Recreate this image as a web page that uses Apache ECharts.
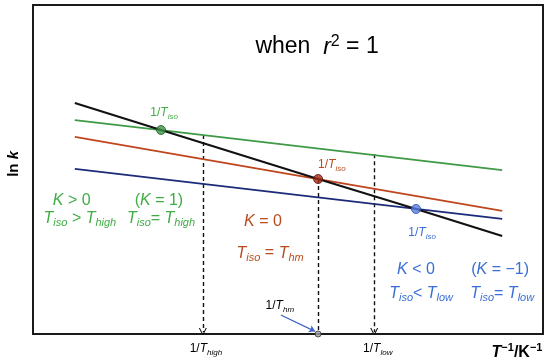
<!DOCTYPE html>
<html>
<head>
<meta charset="utf-8">
<script src="https://cdn.jsdelivr.net/npm/echarts@6/dist/echarts.min.js"></script>
<style>
html, body { margin: 0; padding: 0; background: #fff; }
#chart { width: 550px; height: 364px; }
</style>
</head>
<body>
<div id="chart"></div>
<script>
var FONT = '"Liberation Sans", Arial, sans-serif';

// schematic ln k vs 1/T, both axes in arbitrary units 0..100
var blackLine = [[8.2, 70.2], [25.1, 62.0], [55.9, 47.1], [75.1, 38.0], [92.0, 29.8]];
var greenLine = [[8.2, 65.0], [25.1, 62.0], [92.0, 49.8]];
var redLine = [[8.2, 59.9], [55.9, 47.1], [92.0, 37.4]];
var blueLine = [[8.2, 50.2], [75.1, 38.0], [92.0, 35.0]];
var isoPoints = [[25.1, 62.0], [55.9, 47.1], [75.1, 38.0]];
var highDrop = [[33.3, 60.5], [33.3, 0.6]];
var hmDrop = [[55.9, 47.1], [55.9, 0]];
var lowDrop = [[66.9, 54.6], [66.9, 0.6]];
var hmPoint = [55.9, 0];
var hmArrow = [[48.6, 5.8], [55.3, 0.8]];

// annotations: anchor (data units), rich text, colour key, style key
var notes = [
  [55.7, 87.2, '{n|when  }{i|r}{u|2}{n| = 1}', 'k', 'title'],
  [-3.7, 51.7, '{n|ln }{i|k}', 'k', 'ylab'],
  [94.9, -5.6, '{i|T}{u|\u22121}{n|/K}{u|\u22121}', 'k', 'xlab'],
  [25.7, 67.2, '{n|1/}{i|T}{s|iso}', 'g', 'small'],
  [58.6, 51.4, '{n|1/}{i|T}{s|iso}', 'r', 'small'],
  [76.3, 30.7, '{n|1/}{i|T}{s|iso}', 'b', 'small'],
  [7.6, 40.5, '{i|K}{n| > 0}', 'g', 'big'],
  [9.2, 35.0, '{i|T}{s|iso}{n| > }{i|T}{s|high}', 'g', 'big'],
  [24.7, 40.5, '{n|(}{i|K}{n| = 1)}', 'g', 'big'],
  [25.1, 35.0, '{i|T}{s|iso}{n|= }{i|T}{s|high}', 'g', 'big'],
  [45.1, 34.3, '{i|K}{n| = 0}', 'r', 'big'],
  [46.5, 24.6, '{i|T}{s|iso}{n| = }{i|T}{s|hm}', 'r', 'big'],
  [75.1, 19.5, '{i|K}{n| < 0}', 'b', 'big'],
  [76.1, 12.2, '{i|T}{s|iso}{n|< }{i|T}{s|low}', 'b', 'big'],
  [91.6, 19.5, '{n|(}{i|K}{n| = \u22121)}', 'b', 'big'],
  [92.0, 12.2, '{i|T}{s|iso}{n|= }{i|T}{s|low}', 'b', 'big'],
  [48.4, 8.5, '{n|1/}{i|T}{s|hm}', 'k', 'small'],
  [33.9, -4.6, '{n|1/}{i|T}{s|high}', 'k', 'small'],
  [67.6, -4.6, '{n|1/}{i|T}{s|low}', 'k', 'small']
];

var textColors = { k: '#000', g: '#3fac46', r: '#b84c1c', b: '#3a6ed6' };
var textSizes = { title: 23, big: 16, small: 12, ylab: 15, xlab: 16 };

function richFor(size, bold, color) {
  var sub = Math.round(size * 0.7);
  var w = bold ? 'bold' : 'normal';
  return {
    n: { color: color, fontSize: size, fontFamily: FONT, fontWeight: w, lineHeight: size + 4 },
    i: { color: color, fontSize: size, fontFamily: FONT, fontWeight: w, fontStyle: 'italic', lineHeight: size + 4 },
    s: { color: color, fontSize: sub, fontFamily: FONT, fontWeight: w, fontStyle: 'italic', verticalAlign: 'bottom' },
    u: { color: color, fontSize: sub, fontFamily: FONT, fontWeight: w, verticalAlign: 'top' }
  };
}

var noteData = notes.map(function (n) {
  var style = n[4];
  var bold = style === 'ylab' || style === 'xlab';
  return {
    value: [n[0], n[1]],
    label: {
      formatter: n[2],
      color: textColors[n[3]],
      rotate: style === 'ylab' ? 90 : 0,
      rich: richFor(textSizes[style], bold, textColors[n[3]])
    }
  };
});

function plainLine(data, color, width) {
  return {
    type: 'line', data: data, symbol: 'none', silent: true, z: 3,
    lineStyle: { color: color, width: width }
  };
}

var chevron = 'path://M0,10L5,0L10,10L8.6,10L5,2.8L1.4,10Z';

var chart = echarts.init(document.getElementById('chart'));
chart.setOption({
  animation: false,
  grid: { left: 33, right: 7, top: 5, bottom: 30, show: true, borderColor: '#1a1a1a', borderWidth: 2 },
  xAxis: { type: 'value', min: 0, max: 100, show: false },
  yAxis: { type: 'value', min: 0, max: 100, show: false },
  series: [
    {
      type: 'lines', coordinateSystem: 'cartesian2d', silent: true, z: 2,
      symbol: ['none', chevron], symbolSize: 8,
      lineStyle: { color: '#111', width: 1.4, type: [4, 3], opacity: 1 },
      data: [{ coords: highDrop }, { coords: lowDrop }]
    },
    {
      type: 'lines', coordinateSystem: 'cartesian2d', silent: true, z: 2,
      lineStyle: { color: '#111', width: 1.4, type: [4, 3], opacity: 1 },
      data: [{ coords: hmDrop }]
    },
    {
      type: 'lines', coordinateSystem: 'cartesian2d', silent: true, z: 2,
      symbol: ['none', 'arrow'], symbolSize: 6,
      lineStyle: { color: '#3d62c8', width: 1.2, opacity: 1 },
      data: [{ coords: hmArrow }]
    },
    plainLine(greenLine, '#3f9a47', 1.8),
    plainLine(redLine, '#c0461d', 1.8),
    plainLine(blueLine, '#1c2a7a', 1.8),
    plainLine(blackLine, '#111', 2),
    {
      type: 'scatter', silent: true, z: 5, symbolSize: 9,
      data: [
        { value: isoPoints[0], itemStyle: { color: '#3d9246', borderColor: '#1f5a25', borderWidth: 1 } },
        { value: isoPoints[1], itemStyle: { color: '#a42a18', borderColor: '#5a1208', borderWidth: 1 } },
        { value: isoPoints[2], itemStyle: { color: '#5a7de0', borderColor: '#2a48b0', borderWidth: 1 } }
      ]
    },
    {
      type: 'scatter', silent: true, z: 6, clip: false, symbolSize: 6,
      itemStyle: { color: '#a0a0a0', borderColor: '#333', borderWidth: 1 },
      data: [hmPoint]
    },
    {
      type: 'scatter', silent: true, z: 7, clip: false, symbolSize: 0,
      itemStyle: { color: 'transparent' },
      label: {
        show: true, position: [0, 0], align: 'center', verticalAlign: 'middle',
        textBorderWidth: 0, opacity: 1
      },
      data: noteData
    }
  ]
});
</script>
</body>
</html>
